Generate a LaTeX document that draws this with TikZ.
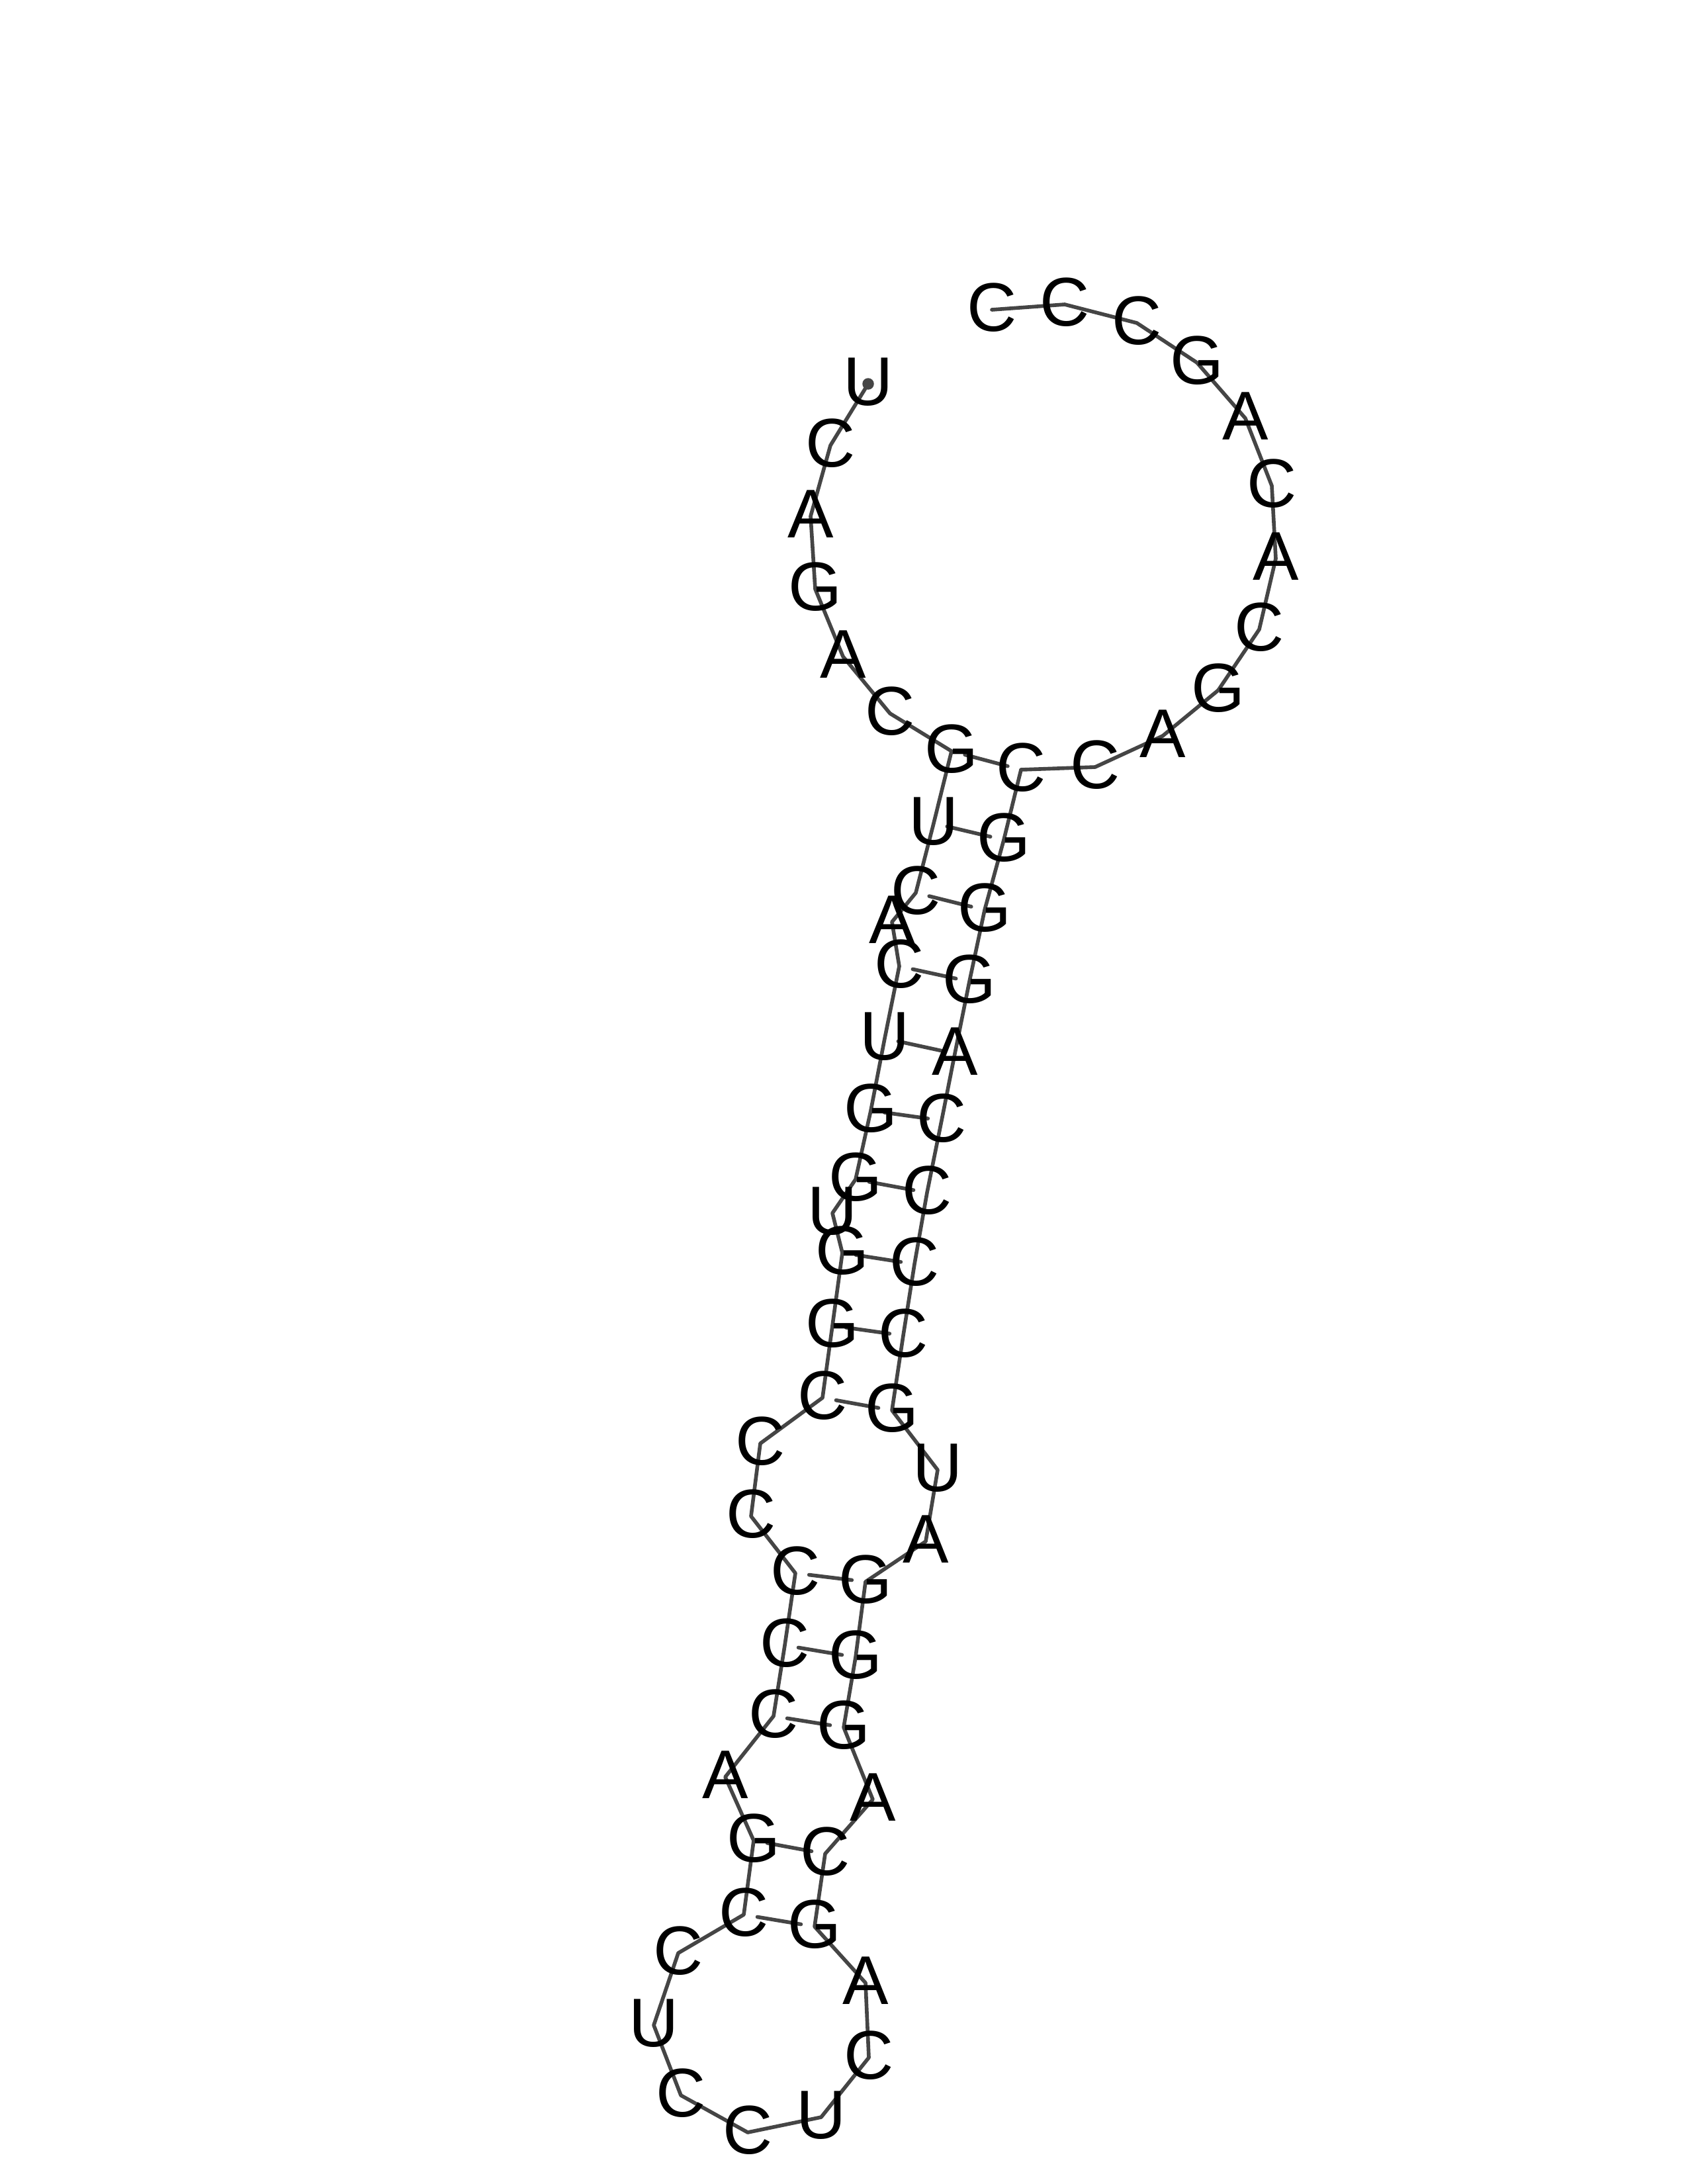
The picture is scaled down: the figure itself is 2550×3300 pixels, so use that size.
\documentclass[tikz,border=0pt]{standalone}
\usepackage{fontspec}
\setmainfont{Liberation Sans}
\pgfdeclarelayer{bg}
\pgfsetlayers{bg,main}
\definecolor{linegray}{gray}{0.27}
\tikzset{
  base/.style={inner sep=0pt,outer sep=0pt,text=black,text height=18pt,text depth=2.2pt,font=\fontsize{25}{25}\selectfont},
  backbone/.style={draw=linegray,line width=1.35pt,line join=round,line cap=round},
  basepair/.style={draw=linegray,line width=1.35pt,line cap=round,shorten <=5pt,shorten >=5pt},
  startdot/.style={fill=linegray,draw=none}
}
\begin{document}
\begin{tikzpicture}[x=0.24pt,y=-0.24pt]
\useasboundingbox (0,0) rectangle (2550,3300);
% 5' tail
\node[base] (n1) at (1312,580) {U};
\node[base] (n2) at (1255,673) {C};
\node[base] (n3) at (1225,780) {A};
\node[base] (n4) at (1232,890) {G};
\node[base] (n5) at (1274,992) {A};
\node[base] (n6) at (1345,1078) {C};
% first stem, left strand
\node[base] (n7) at (1438,1135) {G};
\node[base] (n8) at (1411,1244) {U};
\node[base] (n9) at (1384,1349) {C};
\node[base] (n10) at (1348,1393) {A};
\node[base] (n11) at (1359,1460) {C};
\node[base] (n12) at (1337,1569) {U};
\node[base] (n13) at (1316,1678) {G};
\node[base] (n14) at (1293,1782) {G};
\node[base] (n15) at (1258,1833) {U};
\node[base] (n16) at (1273,1893) {G};
\node[base] (n17) at (1258,2003) {G};
\node[base] (n18) at (1243,2112) {C};
% internal loop, left
\node[base] (n19) at (1149,2181) {C};
\node[base] (n20) at (1135,2291) {C};
% second stem, left strand
\node[base] (n21) at (1202,2377) {C};
\node[base] (n22) at (1186,2486) {C};
\node[base] (n23) at (1169,2593) {C};
\node[base] (n24) at (1096,2685) {A};
% third stem, left strand
\node[base] (n25) at (1139,2781) {G};
\node[base] (n26) at (1124,2893) {C};
% hairpin
\node[base] (n27) at (1025,2951) {C};
\node[base] (n28) at (988,3060) {U};
\node[base] (n29) at (1029,3166) {C};
\node[base] (n30) at (1130,3222) {C};
\node[base] (n31) at (1241,3199) {U};
\node[base] (n32) at (1313,3109) {C};
\node[base] (n33) at (1308,2996) {A};
% third stem, right strand
\node[base] (n34) at (1231,2911) {G};
\node[base] (n35) at (1247,2801) {C};
\node[base] (n36) at (1319,2719) {A};
% second stem, right strand
\node[base] (n37) at (1275,2610) {G};
\node[base] (n38) at (1293,2504) {G};
\node[base] (n39) at (1308,2390) {G};
% internal loop, right
\node[base] (n40) at (1399,2329) {A};
\node[base] (n41) at (1417,2221) {U};
% first stem, right strand
\node[base] (n42) at (1348,2131) {G};
\node[base] (n43) at (1365,2018) {C};
\node[base] (n44) at (1382,1910) {C};
\node[base] (n45) at (1401,1802) {C};
\node[base] (n46) at (1423,1693) {C};
\node[base] (n47) at (1443,1592) {A};
\node[base] (n48) at (1465,1483) {G};
\node[base] (n49) at (1488,1375) {G};
\node[base] (n50) at (1517,1269) {G};
\node[base] (n51) at (1543,1163) {C};
% 3' tail
\node[base] (n52) at (1655,1159) {C};
\node[base] (n53) at (1757,1112) {A};
\node[base] (n54) at (1841,1043) {G};
\node[base] (n55) at (1903,951) {C};
\node[base] (n56) at (1928,844) {A};
\node[base] (n57) at (1922,734) {C};
\node[base] (n58) at (1882,632) {A};
\node[base] (n59) at (1809,548) {G};
\node[base] (n60) at (1718,488) {C};
\node[base] (n61) at (1609,460) {C};
\node[base] (n62) at (1499,468) {C};
\begin{pgfonlayer}{bg}
\draw[backbone] (n1.center)
  \foreach \i in {2,...,62} { -- (n\i.center) };
\fill[startdot] (n1.center) circle (2.1pt);
\foreach \a/\b in {7/51,8/50,9/49,11/48,12/47,13/46,14/45,16/44,17/43,18/42,21/39,22/38,23/37,25/35,26/34}
  \draw[basepair] (n\a.center) -- (n\b.center);
\end{pgfonlayer}
\end{tikzpicture}
\end{document}
